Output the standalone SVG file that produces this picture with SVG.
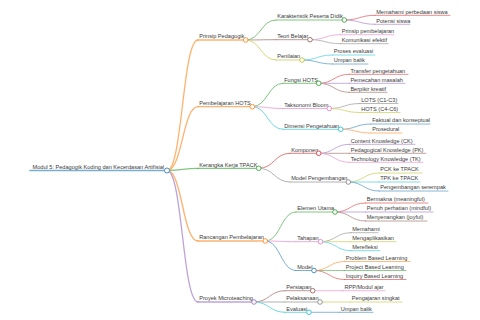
<svg xmlns="http://www.w3.org/2000/svg" width="480" height="320" viewBox="0 0 480 320">
<style>
text{font-family:"Liberation Sans",Arial,sans-serif;font-size:5.6px;fill:#3a3a3a}
path,line{fill:none;stroke-linecap:round}
line{opacity:0.6}
circle{fill:#fff;stroke-width:0.8}
.d0{stroke-width:1.7}.d1{stroke-width:1.3}.d2{stroke-width:1}.d3{stroke-width:0.9}
.c0{stroke:#1f77b4}.c1{stroke:#ff7f0e}.c2{stroke:#2ca02c}.c3{stroke:#d62728}.c4{stroke:#9467bd}
.c5{stroke:#8c564b}.c6{stroke:#e377c2}.c7{stroke:#7f7f7f}.c8{stroke:#bcbd22}.c9{stroke:#17becf}
</style>
<rect width="480" height="320" fill="#fff"/>
<g id="connectors" opacity="0.6">
<path class="c1 d1" d="M167,170.5 C182.5,170.5 182.5,40 198,40"/>
<path class="c1 d1" d="M167,170.5 C182.5,170.5 182.5,106.7 198,106.7"/>
<path class="c2 d1" d="M167,170.5 C182.5,170.5 182.5,168.3 198,168.3"/>
<path class="c1 d1" d="M167,170.5 C182.5,170.5 182.5,241 198,241"/>
<path class="c4 d1" d="M167,170.5 C182.5,170.5 182.5,302 198,302"/>
<path class="c2 d2" d="M245.7,40 C260.85,40 260.85,20 276,20"/>
<path class="c5 d2" d="M245.7,40 C260.85,40 260.85,39.7 276,39.7"/>
<path class="c8 d2" d="M245.7,40 C260.85,40 260.85,60 276,60"/>
<path class="c3 d3" d="M344.3,20 C359.65,20 359.65,15.3 375,15.3"/>
<path class="c4 d3" d="M344.3,20 C359.65,20 359.65,24.3 375,24.3"/>
<path class="c6 d3" d="M310,39.7 C325.25,39.7 325.25,34.7 340.5,34.7"/>
<path class="c7 d3" d="M310,39.7 C325.25,39.7 325.25,43.7 340.5,43.7"/>
<path class="c9 d3" d="M302,60 C317.25,60 317.25,55 332.5,55"/>
<path class="c0 d3" d="M302,60 C317.25,60 317.25,64 332.5,64"/>
<path class="c2 d2" d="M252.3,106.7 C267.65,106.7 267.65,83.3 283,83.3"/>
<path class="c6 d2" d="M252.3,106.7 C267.65,106.7 267.65,108.5 283,108.5"/>
<path class="c9 d2" d="M252.3,106.7 C267.65,106.7 267.65,129.3 283,129.3"/>
<path class="c3 d3" d="M318.7,83.3 C333.95,83.3 333.95,74.3 349.2,74.3"/>
<path class="c4 d3" d="M318.7,83.3 C333.95,83.3 333.95,83.3 349.2,83.3"/>
<path class="c5 d3" d="M318.7,83.3 C333.95,83.3 333.95,92.3 349.2,92.3"/>
<path class="c7 d3" d="M329.3,108.5 C344.65,108.5 344.65,103.5 360,103.5"/>
<path class="c8 d3" d="M329.3,108.5 C344.65,108.5 344.65,112.5 360,112.5"/>
<path class="c0 d3" d="M340.7,129.3 C355.85,129.3 355.85,124 371,124"/>
<path class="c1 d3" d="M340.7,129.3 C355.85,129.3 355.85,133 371,133"/>
<path class="c3 d2" d="M258.7,168.3 C274.35,168.3 274.35,153.3 290,153.3"/>
<path class="c7 d2" d="M258.7,168.3 C274.35,168.3 274.35,182 290,182"/>
<path class="c4 d3" d="M318.7,153.3 C334.1,153.3 334.1,144.3 349.5,144.3"/>
<path class="c5 d3" d="M318.7,153.3 C334.1,153.3 334.1,153.3 349.5,153.3"/>
<path class="c6 d3" d="M318.7,153.3 C334.1,153.3 334.1,162.3 349.5,162.3"/>
<path class="c8 d3" d="M348.3,182 C363.65,182 363.65,173 379,173"/>
<path class="c9 d3" d="M348.3,182 C363.65,182 363.65,182 379,182"/>
<path class="c0 d3" d="M348.3,182 C363.65,182 363.65,191 379,191"/>
<path class="c2 d2" d="M265.3,241 C280.65,241 280.65,212 296,212"/>
<path class="c6 d2" d="M265.3,241 C280.65,241 280.65,241.7 296,241.7"/>
<path class="c0 d2" d="M265.3,241 C280.65,241 280.65,270.5 296,270.5"/>
<path class="c3 d3" d="M335,212 C350.25,212 350.25,203 365.5,203"/>
<path class="c4 d3" d="M335,212 C350.25,212 350.25,212 365.5,212"/>
<path class="c5 d3" d="M335,212 C350.25,212 350.25,221 365.5,221"/>
<path class="c7 d3" d="M320.5,241.7 C335.75,241.7 335.75,232.7 351,232.7"/>
<path class="c8 d3" d="M320.5,241.7 C335.75,241.7 335.75,241.7 351,241.7"/>
<path class="c9 d3" d="M320.5,241.7 C335.75,241.7 335.75,250.7 351,250.7"/>
<path class="c1 d3" d="M314,270.5 C329.25,270.5 329.25,261.5 344.5,261.5"/>
<path class="c2 d3" d="M314,270.5 C329.25,270.5 329.25,270.5 344.5,270.5"/>
<path class="c3 d3" d="M314,270.5 C329.25,270.5 329.25,279.5 344.5,279.5"/>
<path class="c5 d2" d="M254,302 C269.5,302 269.5,290.7 285,290.7"/>
<path class="c7 d2" d="M254,302 C269.5,302 269.5,302 285,302"/>
<path class="c9 d2" d="M254,302 C269.5,302 269.5,312.3 285,312.3"/>
<path class="c6 d3" d="M312.7,290.7 C327.95,290.7 327.95,290.7 343.2,290.7"/>
<path class="c8 d3" d="M320,302 C335.25,302 335.25,302 350.5,302"/>
<path class="c0 d3" d="M309,312.3 C324.25,312.3 324.25,312.3 339.5,312.3"/>
</g>
<g id="root"><line class="c0 d0" x1="30" y1="170.5" x2="167" y2="170.5"/><text x="32.5" y="168.8">Modul 5: Pedagogik Koding dan Kecerdasan Artifisial</text><circle class="c0" cx="167" cy="170.5" r="2.5"/></g>
<g id="n1"><line class="c1 d1" x1="198" y1="40" x2="245.7" y2="40"/><text x="199.2" y="38.4">Prinsip Pedagogik</text><circle class="c1" cx="245.7" cy="40" r="2.3"/></g>
<g id="n1a"><line class="c2 d2" x1="276" y1="20" x2="344.3" y2="20"/><text x="277.2" y="18.4">Karakteristik Peserta Didik</text><circle class="c2" cx="344.3" cy="20" r="2.3"/></g>
<g id="n1a1"><line class="c3 d3" x1="375" y1="15.3" x2="450" y2="15.3"/><text x="376.2" y="13.7">Memahami perbedaan siswa</text></g>
<g id="n1a2"><line class="c4 d3" x1="375" y1="24.3" x2="410" y2="24.3"/><text x="376.2" y="22.7">Potensi siswa</text></g>
<g id="n1b"><line class="c5 d2" x1="276" y1="39.7" x2="310" y2="39.7"/><text x="277.2" y="38.1">Teori Belajar</text><circle class="c5" cx="310" cy="39.7" r="2.3"/></g>
<g id="n1b1"><line class="c6 d3" x1="340.5" y1="34.7" x2="394" y2="34.7"/><text x="341.7" y="33.1">Prinsip pembelajaran</text></g>
<g id="n1b2"><line class="c7 d3" x1="340.5" y1="43.7" x2="388" y2="43.7"/><text x="341.7" y="42.1">Komunikasi efektif</text></g>
<g id="n1c"><line class="c8 d2" x1="276" y1="60" x2="302" y2="60"/><text x="277.2" y="58.4">Penilaian</text><circle class="c8" cx="302" cy="60" r="2.3"/></g>
<g id="n1c1"><line class="c9 d3" x1="332.5" y1="55" x2="375" y2="55"/><text x="333.7" y="53.4">Proses evaluasi</text></g>
<g id="n1c2"><line class="c0 d3" x1="332.5" y1="64" x2="368" y2="64"/><text x="333.7" y="62.4">Umpan balik</text></g>
<g id="n2"><line class="c1 d1" x1="198" y1="106.7" x2="252.3" y2="106.7"/><text x="199.2" y="105.1">Pembelajaran HOTS</text><circle class="c1" cx="252.3" cy="106.7" r="2.3"/></g>
<g id="n2a"><line class="c2 d2" x1="283" y1="83.3" x2="318.7" y2="83.3"/><text x="284.2" y="81.7">Fungsi HOTS</text><circle class="c2" cx="318.7" cy="83.3" r="2.3"/></g>
<g id="n2a1"><line class="c3 d3" x1="349.2" y1="74.3" x2="408" y2="74.3"/><text x="350.4" y="72.7">Transfer pengetahuan</text></g>
<g id="n2a2"><line class="c4 d3" x1="349.2" y1="83.3" x2="405" y2="83.3"/><text x="350.4" y="81.7">Pemecahan masalah</text></g>
<g id="n2a3"><line class="c5 d3" x1="349.2" y1="92.3" x2="387" y2="92.3"/><text x="350.4" y="90.7">Berpikir kreatif</text></g>
<g id="n2b"><line class="c6 d2" x1="283" y1="108.5" x2="329.3" y2="108.5"/><text x="284.2" y="106.9">Taksonomi Bloom</text><circle class="c6" cx="329.3" cy="108.5" r="2.3"/></g>
<g id="n2b1"><line class="c7 d3" x1="360" y1="103.5" x2="398" y2="103.5"/><text x="361.2" y="101.9">LOTS (C1-C3)</text></g>
<g id="n2b2"><line class="c8 d3" x1="360" y1="112.5" x2="400" y2="112.5"/><text x="361.2" y="110.9">HOTS (C4-C6)</text></g>
<g id="n2c"><line class="c9 d2" x1="283" y1="129.3" x2="340.7" y2="129.3"/><text x="284.2" y="127.7">Dimensi Pengetahuan</text><circle class="c9" cx="340.7" cy="129.3" r="2.3"/></g>
<g id="n2c1"><line class="c0 d3" x1="371" y1="124" x2="430" y2="124"/><text x="372.2" y="122.4">Faktual dan konseptual</text></g>
<g id="n2c2"><line class="c1 d3" x1="371" y1="133" x2="402" y2="133"/><text x="372.2" y="131.4">Prosedural</text></g>
<g id="n3"><line class="c2 d1" x1="198" y1="168.3" x2="258.7" y2="168.3"/><text x="199.2" y="166.7">Kerangka Kerja TPACK</text><circle class="c2" cx="258.7" cy="168.3" r="2.3"/></g>
<g id="n3a"><line class="c3 d2" x1="290" y1="153.3" x2="318.7" y2="153.3"/><text x="291.2" y="151.7">Komponen</text><circle class="c3" cx="318.7" cy="153.3" r="2.3"/></g>
<g id="n3a1"><line class="c4 d3" x1="349.5" y1="144.3" x2="415" y2="144.3"/><text x="350.7" y="142.7">Content Knowledge (CK)</text></g>
<g id="n3a2"><line class="c5 d3" x1="349.5" y1="153.3" x2="426" y2="153.3"/><text x="350.7" y="151.7">Pedagogical Knowledge (PK)</text></g>
<g id="n3a3"><line class="c6 d3" x1="349.5" y1="162.3" x2="423" y2="162.3"/><text x="350.7" y="160.7">Technology Knowledge (TK)</text></g>
<g id="n3b"><line class="c7 d2" x1="290" y1="182" x2="348.3" y2="182"/><text x="291.2" y="180.4">Model Pengembangan</text><circle class="c7" cx="348.3" cy="182" r="2.3"/></g>
<g id="n3b1"><line class="c8 d3" x1="379" y1="173" x2="422" y2="173"/><text x="380.2" y="171.4">PCK ke TPACK</text></g>
<g id="n3b2"><line class="c9 d3" x1="379" y1="182" x2="420" y2="182"/><text x="380.2" y="180.4">TPK ke TPACK</text></g>
<g id="n3b3"><line class="c0 d3" x1="379" y1="191" x2="448" y2="191"/><text x="380.2" y="189.4">Pengembangan serempak</text></g>
<g id="n4"><line class="c1 d1" x1="198" y1="241" x2="265.3" y2="241"/><text x="199.2" y="239.4">Rancangan Pembelajaran</text><circle class="c1" cx="265.3" cy="241" r="2.3"/></g>
<g id="n4a"><line class="c2 d2" x1="296" y1="212" x2="335" y2="212"/><text x="297.2" y="210.4">Elemen Utama</text><circle class="c2" cx="335" cy="212" r="2.3"/></g>
<g id="n4a1"><line class="c3 d3" x1="365.5" y1="203" x2="428" y2="203"/><text x="366.7" y="201.4">Bermakna (meaningful)</text></g>
<g id="n4a2"><line class="c4 d3" x1="365.5" y1="212" x2="433" y2="212"/><text x="366.7" y="210.4">Penuh perhatian (mindful)</text></g>
<g id="n4a3"><line class="c5 d3" x1="365.5" y1="221" x2="427" y2="221"/><text x="366.7" y="219.4">Menyenangkan (joyful)</text></g>
<g id="n4b"><line class="c6 d2" x1="296" y1="241.7" x2="320.5" y2="241.7"/><text x="297.2" y="240.1">Tahapan</text><circle class="c6" cx="320.5" cy="241.7" r="2.3"/></g>
<g id="n4b1"><line class="c7 d3" x1="351" y1="232.7" x2="378" y2="232.7"/><text x="352.2" y="231.1">Memahami</text></g>
<g id="n4b2"><line class="c8 d3" x1="351" y1="241.7" x2="396" y2="241.7"/><text x="352.2" y="240.1">Mengaplikasikan</text></g>
<g id="n4b3"><line class="c9 d3" x1="351" y1="250.7" x2="380" y2="250.7"/><text x="352.2" y="249.1">Merefleksi</text></g>
<g id="n4c"><line class="c0 d2" x1="296" y1="270.5" x2="314" y2="270.5"/><text x="297.2" y="268.9">Model</text><circle class="c0" cx="314" cy="270.5" r="2.3"/></g>
<g id="n4c1"><line class="c1 d3" x1="344.5" y1="261.5" x2="410" y2="261.5"/><text x="345.7" y="259.9">Problem Based Learning</text></g>
<g id="n4c2"><line class="c2 d3" x1="344.5" y1="270.5" x2="406" y2="270.5"/><text x="345.7" y="268.9">Project Based Learning</text></g>
<g id="n4c3"><line class="c3 d3" x1="344.5" y1="279.5" x2="406" y2="279.5"/><text x="345.7" y="277.9">Inquiry Based Learning</text></g>
<g id="n5"><line class="c4 d1" x1="198" y1="302" x2="254" y2="302"/><text x="199.2" y="300.4">Proyek Microteaching</text><circle class="c4" cx="254" cy="302" r="2.3"/></g>
<g id="n5a"><line class="c5 d2" x1="285" y1="290.7" x2="312.7" y2="290.7"/><text x="286.2" y="289.1">Persiapan</text><circle class="c5" cx="312.7" cy="290.7" r="2.3"/></g>
<g id="n5a1"><line class="c6 d3" x1="343.2" y1="290.7" x2="385" y2="290.7"/><text x="344.4" y="289.1">RPP/Modul ajar</text></g>
<g id="n5b"><line class="c7 d2" x1="285" y1="302" x2="320" y2="302"/><text x="286.2" y="300.4">Pelaksanaan</text><circle class="c7" cx="320" cy="302" r="2.3"/></g>
<g id="n5b1"><line class="c8 d3" x1="350.5" y1="302" x2="402" y2="302"/><text x="351.7" y="300.4">Pengajaran singkat</text></g>
<g id="n5c"><line class="c9 d2" x1="285" y1="312.3" x2="309" y2="312.3"/><text x="286.2" y="310.7">Evaluasi</text><circle class="c9" cx="309" cy="312.3" r="2.3"/></g>
<g id="n5c1"><line class="c0 d3" x1="339.5" y1="312.3" x2="373" y2="312.3"/><text x="340.7" y="310.7">Umpan balik</text></g>
</svg>
